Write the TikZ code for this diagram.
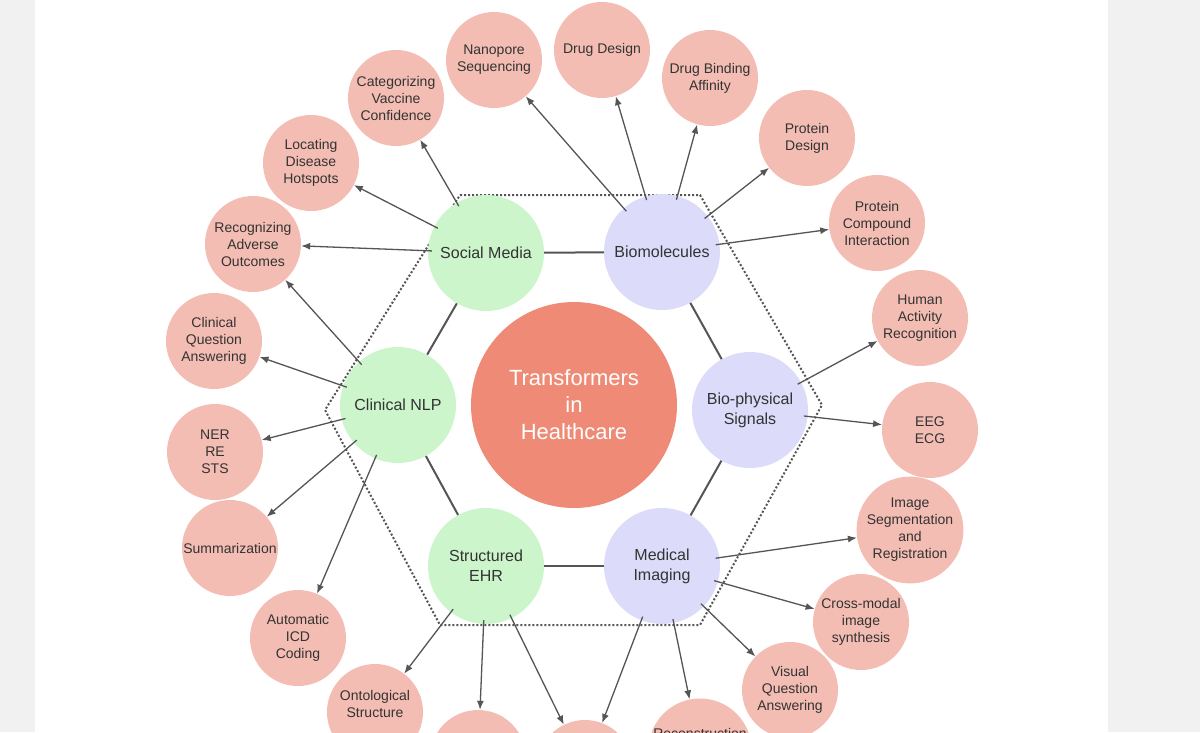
\documentclass[tikz,border=0pt]{standalone}
\usepackage{fontspec}
\setmainfont{Liberation Sans}
\usetikzlibrary{arrows.meta}
\begin{document}
\begin{tikzpicture}[x=1pt,y=-1pt,
 leaf/.style={circle,fill=leafc,minimum size=96pt,inner sep=0pt,align=center,font=\fontsize{14}{17}\selectfont,text=txt},
 hubg/.style={circle,fill=hubgc,minimum size=116pt,inner sep=0pt,align=center,font=\fontsize{16}{20}\selectfont,text=txt},
 hubp/.style={hubg,fill=hubpc},
 arr/.style={-{Latex[length=9pt,width=7pt]},draw=linec,line width=1.3pt,shorten <=-4pt},
 link/.style={draw=linec,line width=2pt}]
\definecolor{leafc}{HTML}{F4BDB3}
\definecolor{hubgc}{HTML}{CCF5CC}
\definecolor{hubpc}{HTML}{DCDCFA}
\definecolor{cenc}{HTML}{EE8A75}
\definecolor{txt}{HTML}{333333}
\definecolor{linec}{HTML}{555555}
\definecolor{bgc}{HTML}{F1F1F1}
\useasboundingbox (0,0) rectangle (1200,732);
\clip (0,0) rectangle (1200,732);
\fill[bgc] (0,0) rectangle (1200,732);
\fill[white] (35,0) rectangle (1108,732);
\draw[dotted,line width=2pt,draw=linec] (460,195)--(700,195)--(822,405)--(700,625)--(440,625)--(325,410)--cycle;
\node[circle,fill=cenc,minimum size=206pt,align=center,text=white,font=\fontsize{22}{27}\selectfont] (c) at (574,405) {Transformers\\in\\Healthcare};
\node[hubg] (sm) at (486,253) {Social Media};
\node[hubp] (bm) at (662,252) {Biomolecules};
\node[hubg] (nlp) at (398,405) {Clinical NLP};
\node[hubp] (bs) at (750,410) {Bio-physical\\Signals};
\node[hubg] (ehr) at (486,566) {Structured\\EHR};
\node[hubp] (mi) at (662,566) {Medical\\Imaging};
\draw[link] (sm)--(bm); \draw[link] (bm)--(bs); \draw[link] (bs)--(mi);
\draw[link] (mi)--(ehr); \draw[link] (ehr)--(nlp); \draw[link] (nlp)--(sm);
\node[leaf] (l1) at (494,60) {Nanopore\\Sequencing};
\node[leaf] (l2) at (602,50) {Drug Design};
\node[leaf] (l3) at (710,78) {Drug Binding\\Affinity};
\node[leaf] (l4) at (807,138) {Protein\\Design};
\node[leaf] (l5) at (877,223) {Protein\\Compound\\Interaction};
\node[leaf] (l6) at (920,318) {Human\\Activity\\Recognition};
\node[leaf] (l7) at (930,430) {EEG\\ECG};
\node[leaf] (l8) at (910,530) {Image\\Segmentation\\and\\Registration};
\node[leaf] (l9) at (861,622) {Cross-modal\\image\\synthesis};
\node[leaf] (l10) at (790,690) {Visual\\Question\\Answering};
\node[leaf] (l11) at (700,750) {Reconstruction\\\ \\\ };
\node[leaf] (l12) at (585,768) {};
\node[leaf] (l13) at (478,758) {};
\node[leaf] (l14) at (375,712) {Ontological\\Structure\\\ };
\node[leaf] (l15) at (298,638) {Automatic\\ICD\\Coding};
\node[leaf] (l16) at (230,548) {Summarization};
\node[leaf] (l17) at (215,452) {NER\\RE\\STS};
\node[leaf] (l18) at (214,341) {Clinical\\Question\\Answering};
\node[leaf] (l19) at (253,244) {Recognizing\\Adverse\\Outcomes};
\node[leaf] (l20) at (311,163) {Locating\\Disease\\Hotspots};
\node[leaf] (l21) at (396,98) {Categorizing\\Vaccine\\Confidence};
\foreach \t in {l1,l2,l3,l4,l5} \draw[arr] (bm)--(\t);
\foreach \t in {l6,l7} \draw[arr] (bs)--(\t);
\foreach \t in {l8,l9,l10,l11,l12} \draw[arr] (mi)--(\t);
\foreach \t in {l12,l13,l14} \draw[arr] (ehr)--(\t);
\foreach \t in {l15,l16,l17,l18,l19} \draw[arr] (nlp)--(\t);
\foreach \t in {l19,l20,l21} \draw[arr] (sm)--(\t);
\end{tikzpicture}
\end{document}
